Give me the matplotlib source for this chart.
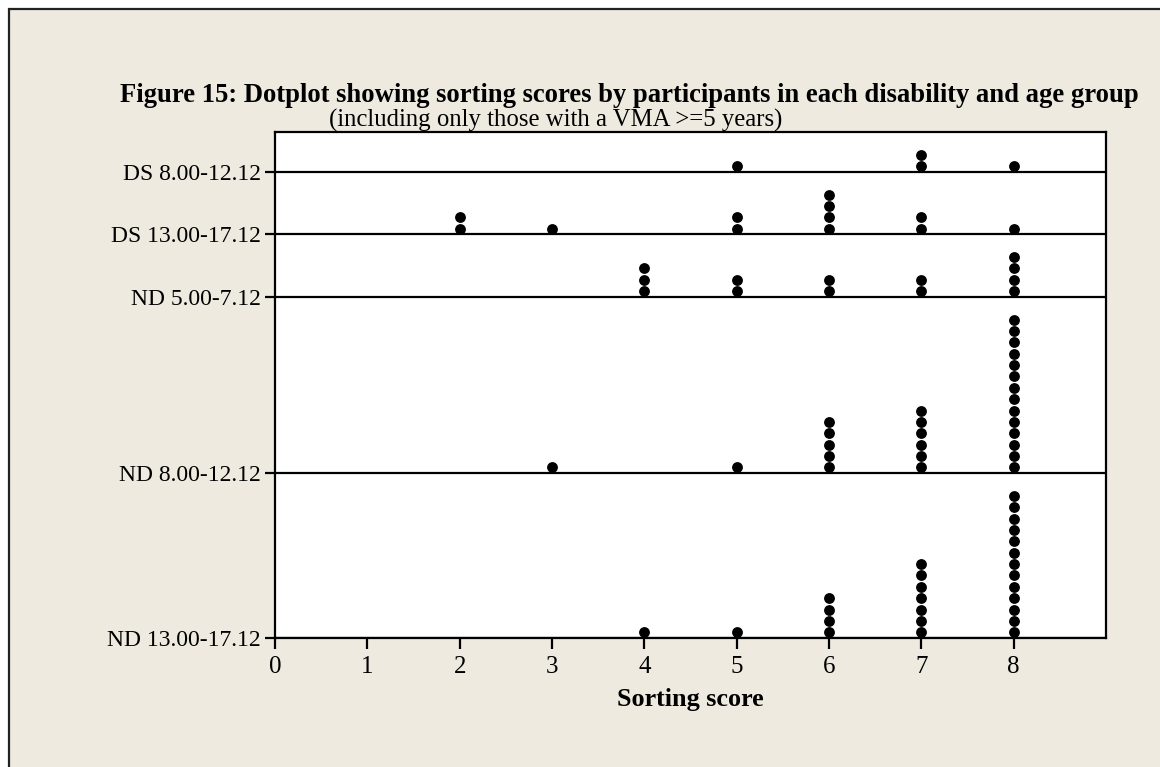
import matplotlib
matplotlib.use("Agg")
import matplotlib.pyplot as plt
from matplotlib.patches import Rectangle

# Sorting scores 0..8; counts of participants at each score per group
scores = [0, 1, 2, 3, 4, 5, 6, 7, 8]
groups = ["DS 8.00-12.12", "DS 13.00-17.12", "ND 5.00-7.12",
          "ND 8.00-12.12", "ND 13.00-17.12"]
ds_8_12 = [0, 0, 0, 0, 0, 1, 0, 2, 1]
ds_13_17 = [0, 0, 2, 1, 0, 2, 4, 2, 1]
nd_5_7 = [0, 0, 0, 0, 3, 2, 2, 2, 4]
nd_8_12 = [0, 0, 0, 1, 0, 1, 5, 6, 14]
nd_13_17 = [0, 0, 0, 0, 1, 1, 4, 7, 13]
counts = [ds_8_12, ds_13_17, nd_5_7, nd_8_12, nd_13_17]

serif = ["Liberation Serif", "DejaVu Serif"]
plt.rcParams["font.family"] = serif

W, H = 1160, 767
fig = plt.figure(figsize=(W / 100, H / 100), dpi=100, facecolor="white")

# beige panel with a dark border on the top/left
panel = Rectangle((9 / W, -0.1), 1.2, 1 - 9 / H + 0.1,
                  transform=fig.transFigure, facecolor="#EEEAE0",
                  edgecolor="#222222", linewidth=1.6, zorder=-10)
fig.patches.append(panel)

ax = fig.add_axes([275 / W, 1 - 638 / H, (1106 - 275) / W, (638 - 132) / H])
ax.set_facecolor("white")
ax.set_zorder(1)

# stack baselines: each row gets room for its tallest stack plus padding
pad = 1.5
bases = {}
y = 0.0
for name, c in zip(reversed(groups), reversed(counts)):
    bases[name] = y
    y += max(c) + pad
top = y

for name, c in zip(groups, counts):
    b = bases[name]
    ax.axhline(b, color="black", linewidth=1.6, zorder=2)
    for s, n in zip(scores, c):
        for k in range(n):
            ax.plot(s, b + 0.5 + k, "o", color="black", markersize=7.8,
                    markeredgewidth=0, zorder=3)

ax.set_xlim(0, 9)
ax.set_ylim(0, top)
ax.set_xticks(scores)
ax.set_xticklabels([str(s) for s in scores])
ax.set_yticks([bases[g] for g in groups])
ax.set_yticklabels(groups)
ax.tick_params(axis="both", direction="out", length=7, width=1.6,
               labelsize=17, colors="black", pad=3)
ax.tick_params(axis="x", length=8, labelsize=18, pad=5)
for sp in ax.spines.values():
    sp.set_linewidth(1.6)
    sp.set_color("black")

ax.set_xlabel("Sorting score", fontsize=18.8, fontweight="bold", labelpad=7)

fig.text(629 / W, 1 - 95 / H,
         "Figure 15: Dotplot showing sorting scores by participants in each disability and age group",
         ha="center", va="center", fontsize=19.2, fontweight="bold")
fig.text(556 / W, 1 - 120 / H, "(including only those with a VMA >=5 years)",
         ha="center", va="center", fontsize=17.8)

fig.savefig("out.png", dpi=100, facecolor=fig.get_facecolor())
